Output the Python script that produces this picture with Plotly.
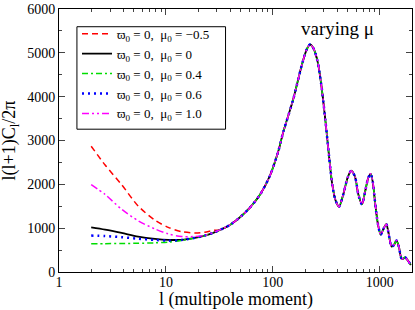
import plotly.graph_objects as go

# multipoles for the low-l (series-specific) part
ell_low = [2, 2.7, 3.85, 5.5, 7.9, 10.5, 14, 18.6, 23, 28]
red_low = [2870, 2440, 1993, 1505, 1183, 1018, 921, 891, 906, 950]
black_low = [1018, 966, 891, 809, 757, 734, 734, 779, 831, 900]
green_low = [644, 647, 650, 655, 665, 680, 720, 775, 830, 900]
blue_low = [831, 820, 795, 760, 730, 715, 730, 780, 830, 900]
magenta_low = [1993, 1768, 1431, 1169, 981, 869, 809, 809, 831, 905]

# common part (all curves coincide)
ell_common = [32, 40, 49, 61, 76, 94, 112, 125, 155, 185, 206, 222, 240, 262, 285,
              310, 335, 360, 385, 415, 455, 500, 540, 585, 630, 680, 730, 780, 820,
              860, 900, 960, 1020, 1080, 1150, 1200, 1290, 1360, 1430, 1510, 1590,
              1650, 1720, 1820, 1950]
cl_common = [960, 1080, 1243, 1468, 1768, 2200, 2742, 3191, 3940, 4690, 5063, 5190, 5100,
             4800, 4230, 3450, 2650, 1980, 1640, 1490, 1768, 2150, 2310, 2180, 1768, 1544,
             1843, 2150, 2240, 2050, 1618, 1094, 854, 980, 1090, 920, 580, 620, 720, 570,
             315, 300, 335, 270, 160]

labels = ["ϖ<sub>0</sub> = 0,\u00a0\u00a0μ<sub>0</sub> = \u22120.5",
          "ϖ<sub>0</sub> = 0,\u00a0\u00a0μ<sub>0</sub> = 0",
          "ϖ<sub>0</sub> = 0,\u00a0\u00a0μ<sub>0</sub> = 0.4",
          "ϖ<sub>0</sub> = 0,\u00a0\u00a0μ<sub>0</sub> = 0.6",
          "ϖ<sub>0</sub> = 0,\u00a0\u00a0μ<sub>0</sub> = 1.0"]
lows = [red_low, black_low, green_low, blue_low, magenta_low]
colors = ["#ff0000", "#000000", "#00dd00", "#0000ff", "#ff00ff"]
dashes = ["6px,4px", "solid", "6px,3px,2px,3px", "2px,4px", "7px,3px,2px,3px,2px,3px"]
widths = [1.5, 1.8, 1.5, 2.5, 1.5]

fig = go.Figure()
for lab, low, col, d, w in zip(labels, lows, colors, dashes, widths):
    fig.add_trace(go.Scatter(
        x=ell_low + ell_common, y=low + cl_common, mode="lines", name=lab,
        line=dict(color=col, dash=d, width=w, shape="spline", smoothing=0.8)))

font_family = "Liberation Serif"
fig.update_layout(
    width=415, height=310,
    margin=dict(l=59, r=2, t=5, b=38),
    paper_bgcolor="white", plot_bgcolor="white",
    font=dict(family=font_family, size=14, color="black"),
    showlegend=True,
    legend=dict(x=0.051, y=0.9625, xanchor="left", yanchor="top",
                borderwidth=0, bgcolor="rgba(0,0,0,0)",
                font=dict(family=font_family, size=13),
                tracegroupgap=0, itemwidth=30),
    xaxis=dict(type="log", range=[0, 3.301], showline=True, linecolor="black",
               linewidth=1, mirror="ticks", ticks="inside", ticklen=6,
               tickvals=[1, 10, 100, 1000], ticktext=["1", "10", "100", "1000"],
               showgrid=False, zeroline=False, ticklabeloverflow="allow",
               ticklabelstandoff=-3,
               minor=dict(ticks="inside", ticklen=3, dtick="D1", showgrid=False),
               tickfont=dict(size=14)),
    yaxis=dict(range=[0, 6000], showline=True, linecolor="black", linewidth=1,
               mirror="ticks", ticks="inside", ticklen=6, dtick=1000,
               showgrid=False, zeroline=False, ticklabeloverflow="allow",
               minor=dict(ticks="inside", ticklen=3, dtick=500, showgrid=False),
               tickfont=dict(size=14)),
    shapes=[dict(type="rect", xref="paper", yref="paper",
                 x0=0.0508, x1=0.4718, y0=0.543, y1=0.9326,
                 line=dict(color="black", width=1), fillcolor="white", layer="above")],
    annotations=[
        dict(text="varying μ", x=0.79, y=0.925, xref="paper", yref="paper",
             xanchor="center", yanchor="middle", showarrow=False,
             font=dict(size=19, family=font_family)),
        dict(text="l (multipole moment)", x=0.5, y=-0.104, xref="paper", yref="paper",
             xanchor="center", yanchor="middle", showarrow=False,
             font=dict(size=18, family=font_family)),
        dict(text="l(l+1)C<sub>l</sub>/2π", x=-0.136, y=0.5, xref="paper", yref="paper",
             xanchor="center", yanchor="middle", showarrow=False, textangle=-90,
             font=dict(size=18, family=font_family)),
    ],
)

fig.write_html("out.html", config={"displayModeBar": False},
               post_script="document.body.style.margin='0';document.body.style.overflow='hidden';")
